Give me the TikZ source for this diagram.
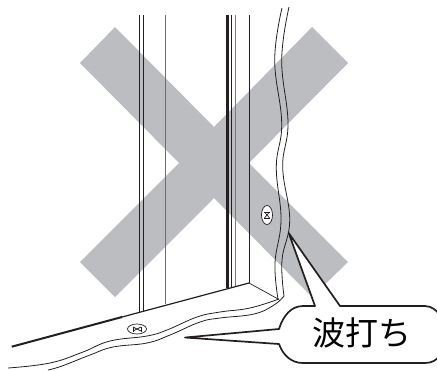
\documentclass[tikz,border=0pt]{standalone}
\usepackage{fontspec}
\usetikzlibrary{shapes.geometric}
\newfontfamily\cjk{Noto Sans CJK JP}
\definecolor{xgray}{HTML}{BBBDC0}
\definecolor{ink}{HTML}{231F20}
\tikzset{
  thin line/.style={draw=ink,line width=0.7bp},
  mid line/.style={draw=ink,line width=1bp},
  soft line/.style={draw=ink!65,line width=1.1bp},
  heavy line/.style={draw=ink,line width=1.6bp},
  wave/.style={draw=ink,line width=0.8bp,smooth,tension=0.7},
  screw/.style={draw=ink,line width=0.7bp,fill=white},
  bubble/.style={draw=ink,line width=1.7bp,fill=white,line join=round},
}
\begin{document}
\begin{tikzpicture}[x=1bp,y=-1bp]
\useasboundingbox (0,0) rectangle (437,370);
% grey cross
\fill[xgray] (115,27) -- (214,127) -- (312,27) -- (348,63) -- (249,163) -- (348,262) -- (312,297) -- (214,198) -- (115,297) -- (80,262) -- (179,163) -- (80,63) -- cycle;
% door frame verticals
\draw[thin line] (139,15) -- (139,312);
\draw[mid line] (143.7,15) -- (143.7,311);
\draw[soft line] (165.7,15) -- (165.7,304);
\draw[draw=ink,line width=3bp] (227.3,15) -- (227.3,288);
\draw[thin line] (231,15) -- (231,287);
\draw[draw=ink!60,line width=0.8bp] (235.7,15) -- (235.7,287);
\draw[mid line] (249,15) -- (249,283);
% sill
\draw[draw=ink,line width=1.2bp] (122,317) -- (249,283);
\draw[draw=ink,line width=2bp] (11.7,346.7) -- (122,317);
\draw[thin line] (249,283) -- (279,299.5);
% wavy edges
\draw[wave] plot coordinates {(282,8) (274.7,60) (281.7,123) (276.3,167) (281,220) (275,263) (278,299)};
\draw[wave] plot coordinates {(289,7) (281.7,60) (288,123) (282.7,167) (289.7,220) (282,260) (284,296)};
\draw[wave] plot coordinates {(8,368) (50,363) (83,352) (110,341) (147,336) (167,330) (197,317) (220,312) (250,308) (279,299)};
\draw[wave] plot coordinates {(48,370) (62,366) (90,355) (113,347) (147,343) (170,335) (200,322) (220,318) (254,314) (274,305) (284,296)};
% screws
\node[ellipse,screw,minimum width=19bp,minimum height=10bp,inner sep=0pt] (s1) at (137,329) {};
\node[ellipse,screw,minimum width=11bp,minimum height=19bp,inner sep=0pt] (s2) at (267,215) {};
\draw[thin line] (133,327) -- (141,331) (133,331) -- (141,327);
\draw[thin line] (133,326.5) -- (133,331.5) (141,326.5) -- (141,331.5);
\draw[thin line] (264.5,212) -- (269.5,218) (264.5,218) -- (269.5,212);
\draw[thin line] (264,212) -- (270,212) (264,218) -- (270,218);
% callout
\coordinate (tipA) at (288.7,233);
\coordinate (tipB) at (185,337.5);
\path[bubble] (tipA) -- (340,306) -- (425,306) .. controls (432,306) and (437,311) .. (440,315) -- (440,355) .. controls (437,360) and (432,363) .. (425,363) -- (303,363) .. controls (291,363) and (283,355) .. (279,344) -- (tipB) -- (279,329) .. controls (283,316) and (291,306) .. (303,306) -- (315,306) -- cycle;
\node[font=\cjk,inner sep=0pt] (label) at (362,333) {\fontsize{33bp}{33bp}\selectfont 波打ち};
\end{tikzpicture}
\end{document}
